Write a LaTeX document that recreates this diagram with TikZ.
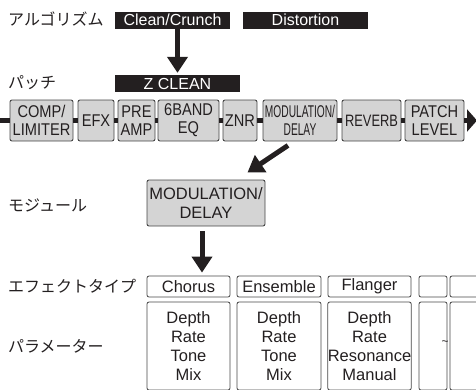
\documentclass[tikz,border=0pt]{standalone}
\usepackage{fontspec}
\setmainfont{Liberation Sans}
\newfontfamily\jpfont{Noto Sans CJK JP}
\newfontfamily\boxfont[FakeStretch=0.86]{Liberation Sans}
\newfontfamily\midfont[FakeStretch=0.78]{Liberation Sans}
\newfontfamily\slimfont[FakeStretch=0.6]{Liberation Sans}
\usetikzlibrary{arrows.meta}

\definecolor{ink}{RGB}{35,31,32}
\definecolor{boxgray}{RGB}{212,212,212}
\definecolor{edgegray}{RGB}{70,70,70}

\tikzset{
  rowlabel/.style={anchor=west, inner sep=0pt, text=ink, font=\jpfont\fontsize{16}{18}\selectfont},
  bar/.style={fill=ink, text=white, inner sep=0pt, minimum height=17pt, font=\fontsize{16}{17}\selectfont},
  chainbox/.style={draw=edgegray, line width=0.9pt, fill=boxgray, rounded corners=2pt, inner sep=0pt,
    minimum height=41pt, align=center, text=ink, font=\boxfont\fontsize{17}{18}\selectfont},
  typebox/.style={draw=edgegray, line width=0.8pt, rounded corners=2pt, inner sep=0pt,
    minimum height=21pt, text=ink, font=\fontsize{16.5}{18}\selectfont},
  parambox/.style={typebox, minimum height=88pt, align=center, font=\fontsize{16.5}{19}\selectfont},
  chainline/.style={draw=ink, line width=5pt},
  bigarrow/.style={draw=ink, line width=5pt, -{Triangle[width=20pt,length=16pt]}},
}

\begin{document}
\begin{tikzpicture}[x=1pt, y=-1pt]
    \useasboundingbox (0,0) rectangle (476,389);
    \clip (0,0) rectangle (476,389);

    % Row labels
    \node[rowlabel] (lalgo) at (8,19) {アルゴリズム};
    \node[rowlabel] (lpatch) at (8,83) {パッチ};
    \node[rowlabel] (lmodule) at (8,205) {モジュール};
    \node[rowlabel] (ltype) at (8,286.5) {エフェクトタイプ};
    \node[rowlabel] (lparam) at (8,346) {パラメーター};

    % Algorithm bars
    \node[bar, minimum width=115pt] (clean) at (172.5,20) {Clean/Crunch};
    \node[bar, minimum width=125pt] (dist) at (305.5,20) {Distortion};
    \node[bar, minimum width=125pt] (zclean) at (177.5,83.5) {Z CLEAN};
    \draw[bigarrow, shorten >=2pt] (clean.south -| zclean.north) -- (zclean.north);

    % Patch chain
    \node[chainbox, minimum width=63pt] (comp) at (41.5,120.5) {COMP/\\LIMITER};
    \node[chainbox, minimum width=36pt] (efx) at (96,120.5) {EFX};
    \node[chainbox, minimum width=37pt] (pre) at (136.5,120.5) {PRE\\AMP};
    \node[chainbox, minimum width=61pt] (eq) at (188.5,120.5) {6BAND\\EQ};
    \node[chainbox, minimum width=34pt] (znr) at (240,120.5) {ZNR};
    \node[chainbox, minimum width=74pt, font=\slimfont\fontsize{17}{18}\selectfont] (mod) at (300,120.5) {MODULATION/\\DELAY};
    \node[chainbox, minimum width=59pt, font=\midfont\fontsize{16.5}{18}\selectfont] (rev) at (371.5,120.5) {REVERB};
    \node[chainbox, minimum width=59pt] (lvl) at (434.5,120.5) {PATCH\\LEVEL};

    \coordinate (in) at (-1,120.5);
    \coordinate (out) at (477,120.5);
    \draw[chainline] (in) -- (comp);
    \foreach \a/\b in {comp/efx, efx/pre, pre/eq, eq/znr, znr/mod, mod/rev, rev/lvl}
        \draw[chainline] (\a) -- (\b);
    \draw[chainline, -{Triangle[width=22pt,length=10pt]}] (lvl) -- (out);

    % Module
    \node[chainbox, minimum width=118pt, minimum height=46pt, font=\fontsize{16.5}{19}\selectfont] (module) at (206,203) {MODULATION/\\DELAY};
    \draw[bigarrow] ([xshift=-12pt,yshift=-4pt]mod.south) -- ([xshift=-18pt,yshift=7pt]module.north east);

    % Effect types
    \node[typebox, minimum width=83pt] (chorus) at (188.5,286.5) {Chorus};
    \node[typebox, minimum width=84pt] (ensemble) at (279,286.5) {Ensemble};
    \node[typebox, minimum width=83pt] (flanger) at (369.5,286.5) {Flanger};
    \node[typebox, minimum width=28pt] (blanka) at (433,286.5) {};
    \node[typebox, minimum width=50pt] (blankb) at (475,286.5) {};
    \draw[bigarrow, shorten <=5pt, shorten >=3pt] ([xshift=-4pt]module.south) -- ([xshift=-4pt]module.south |- chorus.north);

    % Parameters
    \node[parambox, minimum width=83pt] (pchorus) at (188.5,346) {Depth\\Rate\\Tone\\Mix};
    \node[parambox, minimum width=84pt] (pensemble) at (279,346) {Depth\\Rate\\Tone\\Mix};
    \node[parambox, minimum width=83pt] (pflanger) at (369.5,346) {Depth\\Rate\\Resonance\\Manual};
    \node[parambox, minimum width=28pt] (pblanka) at (433,346) {};
    \node[parambox, minimum width=50pt] (pblankb) at (475,346) {};
    \node[inner sep=0pt, text=ink, font=\fontsize{12}{12}\selectfont] (dots) at (445,343) {\textasciitilde};
\end{tikzpicture}
\end{document}
